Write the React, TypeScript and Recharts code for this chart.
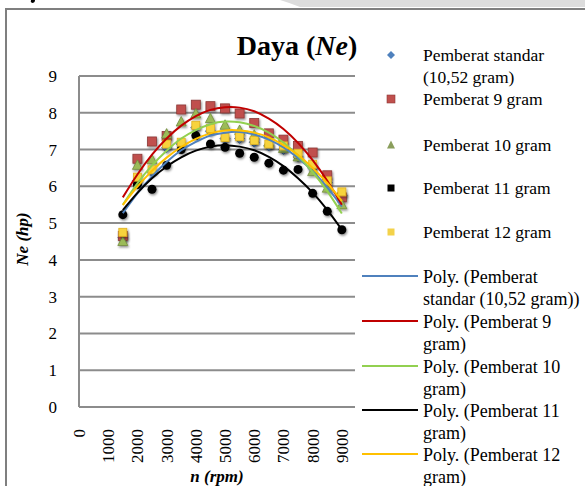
import React from 'react';
import { ComposedChart, Scatter, Line, XAxis, YAxis, CartesianGrid } from 'recharts';

const FONT = '"Liberation Serif", "Times New Roman", serif';

// rpm values of the measured points
const rpm = [1500, 2000, 2500, 3000, 3500, 4000, 4500, 5000, 5500, 6000, 6500, 7000, 7500, 8000, 8500, 9000];

// measured power Ne (hp)
const standarVals = [4.6, 6.15, 6.4, 7.05, 7.15, 7.6, 7.5, 7.3, 7.3, 7.2, 7.1, 7.0, 6.8, 6.5, 6.1, 5.75];
const gram9Vals = [4.65, 6.75, 7.22, 7.37, 8.09, 8.22, 8.18, 8.12, 7.98, 7.72, 7.44, 7.27, 7.1, 6.92, 6.3, 5.7];
const gram10Vals = [4.5, 6.57, 6.72, 7.42, 7.75, 7.97, 7.84, 7.66, 7.52, 7.39, 7.2, 7.03, 6.8, 6.4, 5.95, 5.5];
const gram11Vals = [5.23, 6.05, 5.92, 6.57, 7.0, 7.38, 7.15, 7.06, 6.9, 6.79, 6.63, 6.44, 6.46, 5.81, 5.32, 4.82];
const gram12Vals = [4.75, 6.25, 6.45, 7.15, 7.2, 7.66, 7.57, 7.33, 7.35, 7.25, 7.15, 7.1, 6.9, 6.6, 6.15, 5.85];

// polynomial trend lines
const trendStandar = [5.27, 5.81, 6.27, 6.66, 6.98, 7.21, 7.38, 7.46, 7.48, 7.41, 7.27, 7.06, 6.77, 6.41, 5.97, 5.45];
const trend9 = [5.7, 6.32, 6.86, 7.3, 7.65, 7.91, 8.08, 8.15, 8.14, 8.04, 7.84, 7.56, 7.18, 6.71, 6.15, 5.5];
const trend10 = [5.5, 6.08, 6.57, 6.97, 7.3, 7.53, 7.69, 7.76, 7.74, 7.64, 7.46, 7.19, 6.83, 6.39, 5.87, 5.26];
const trend11 = [5.35, 5.82, 6.22, 6.54, 6.79, 6.97, 7.08, 7.12, 7.08, 6.98, 6.8, 6.55, 6.22, 5.83, 5.36, 4.82];
const trend12 = [5.49, 5.99, 6.42, 6.78, 7.07, 7.29, 7.44, 7.52, 7.52, 7.46, 7.33, 7.12, 6.85, 6.5, 6.09, 5.6];

const xTicks = [0, 1000, 2000, 3000, 4000, 5000, 6000, 7000, 8000, 9000];
const yTicks = [0, 1, 2, 3, 4, 5, 6, 7, 8, 9];

const seriesNames = ['Pemberat standar (10,52 gram)', 'Pemberat 9 gram', 'Pemberat 10 gram', 'Pemberat 11 gram', 'Pemberat 12 gram'];
const seriesLegendLines = [
  ['Pemberat standar', '(10,52 gram)'],
  ['Pemberat 9 gram'],
  ['Pemberat 10 gram'],
  ['Pemberat 11 gram'],
  ['Pemberat 12 gram'],
];
const trendLegendLines = [
  ['Poly. (Pemberat', 'standar (10,52 gram))'],
  ['Poly. (Pemberat 9', 'gram)'],
  ['Poly. (Pemberat 10', 'gram)'],
  ['Poly. (Pemberat 11', 'gram)'],
  ['Poly. (Pemberat 12', 'gram)'],
];
const trendColors = ['#4F81BD', '#C00000', '#92D050', '#000000', '#FFC000'];

const data = rpm.map((x, i) => ({
  rpm: x,
  s: standarVals[i],
  g9: gram9Vals[i],
  g10: gram10Vals[i],
  g11: gram11Vals[i],
  g12: gram12Vals[i],
  ts: trendStandar[i],
  t9: trend9[i],
  t10: trend10[i],
  t11: trend11[i],
  t12: trend12[i],
}));

const DiamondShape = (p: any) => {
  const { cx, cy } = p;
  if (cx == null || cy == null) return null;
  return <path d={`M${cx},${cy - 5} L${cx + 5},${cy} L${cx},${cy + 5} L${cx - 5},${cy} Z`} fill="#4F81BD" stroke="#385D8A" strokeWidth={0.8} filter="url(#mkShadow)" />;
};
const RedSquare = (p: any) => {
  const { cx, cy } = p;
  if (cx == null || cy == null) return null;
  return <rect x={cx - 4.5} y={cy - 4.5} width={9} height={9} fill="#C0504D" stroke="#8C3836" strokeWidth={0.8} filter="url(#mkShadow)" />;
};
const GreenTri = (p: any) => {
  const { cx, cy } = p;
  if (cx == null || cy == null) return null;
  return <path d={`M${cx},${cy - 5.5} L${cx + 5},${cy + 4} L${cx - 5},${cy + 4} Z`} fill="#9BBB59" stroke="#71893F" strokeWidth={0.8} filter="url(#mkShadow)" />;
};
const BlackDot = (p: any) => {
  const { cx, cy } = p;
  if (cx == null || cy == null) return null;
  return <circle cx={cx} cy={cy} r={4.5} fill="#000" filter="url(#mkShadow)" />;
};
const YellowSquare = (p: any) => {
  const { cx, cy } = p;
  if (cx == null || cy == null) return null;
  return <rect x={cx - 4} y={cy - 4} width={8} height={8} fill="#F7D33C" stroke="#E0B020" strokeWidth={0.8} filter="url(#mkShadow)" />;
};

const XTick = (p: any) => {
  const { x, y, payload } = p;
  return (
    <g transform={`translate(${x},${y})`}>
      <text transform="rotate(-90)" textAnchor="end" dy="0.35em" fontSize={17} fontFamily={FONT} fill="#000">
        {payload.value}
      </text>
    </g>
  );
};

const legendMarkerY = [55, 99, 145, 188, 232];
const trendLegendY = [276, 321, 366, 410, 454];

function LegendMarker({ i, x, y }: { i: number; x: number; y: number }) {
  if (i === 0) return <path d={`M${x},${y - 4} L${x + 4},${y} L${x},${y + 4} L${x - 4},${y} Z`} fill="#4F81BD" />;
  if (i === 1) return <rect x={x - 4} y={y - 4} width={8} height={8} fill="#C0504D" stroke="#8C3836" strokeWidth={0.6} />;
  if (i === 2) return <path d={`M${x},${y - 4.5} L${x + 4},${y + 3.5} L${x - 4},${y + 3.5} Z`} fill="#8A9E5C" />;
  if (i === 3) return <rect x={x - 3.5} y={y - 3.5} width={7} height={7} fill="#000" />;
  return <rect x={x - 3.5} y={y - 3.5} width={7} height={7} fill="#F3D24A" />;
}

export default function App() {
  return (
    <div style={{ position: 'absolute', left: 0, top: 0, width: 585, height: 486, background: '#fff' }}>
      <ComposedChart
        width={585}
        height={486}
        data={data}
        margin={{ top: 76, right: 230, bottom: 0, left: 0 }}
        style={{ position: 'absolute', left: 0, top: 0 }}
      >
        <CartesianGrid vertical={false} stroke="#8C8C8C" strokeWidth={2} />
        <XAxis
          type="number"
          dataKey="rpm"
          domain={[0, 9450]}
          ticks={xTicks}
          interval={0}
          height={79}
          axisLine={false}
          tickLine={false}
          tickSize={0}
          tickMargin={22}
          tick={<XTick />}
        />
        <YAxis
          type="number"
          domain={[0, 9]}
          ticks={yTicks}
          interval={0}
          width={79}
          axisLine={{ stroke: '#8C8C8C', strokeWidth: 2 }}
          tickLine={false}
          tickSize={0}
          tickMargin={22}
          tick={{ fontSize: 17, fontFamily: FONT, fill: '#000' }}
        />
        <Scatter name={seriesNames[0]} dataKey="s" shape={<DiamondShape />} isAnimationActive={false} />
        <Scatter name={seriesNames[1]} dataKey="g9" shape={<RedSquare />} isAnimationActive={false} />
        <Scatter name={seriesNames[2]} dataKey="g10" shape={<GreenTri />} isAnimationActive={false} />
        <Scatter name={seriesNames[3]} dataKey="g11" shape={<BlackDot />} isAnimationActive={false} />
        <Scatter name={seriesNames[4]} dataKey="g12" shape={<YellowSquare />} isAnimationActive={false} />
        <Line type="natural" dataKey="ts" stroke={trendColors[0]} strokeWidth={2} dot={false} activeDot={false} isAnimationActive={false} {...({ zIndex: 700 } as any)} />
        <Line type="natural" dataKey="t9" stroke={trendColors[1]} strokeWidth={2} dot={false} activeDot={false} isAnimationActive={false} {...({ zIndex: 700 } as any)} />
        <Line type="natural" dataKey="t10" stroke={trendColors[2]} strokeWidth={2} dot={false} activeDot={false} isAnimationActive={false} {...({ zIndex: 700 } as any)} />
        <Line type="natural" dataKey="t11" stroke={trendColors[3]} strokeWidth={2} dot={false} activeDot={false} isAnimationActive={false} {...({ zIndex: 700 } as any)} />
        <Line type="natural" dataKey="t12" stroke={trendColors[4]} strokeWidth={2} dot={false} activeDot={false} isAnimationActive={false} {...({ zIndex: 700 } as any)} />
      </ComposedChart>
      <svg width={585} height={486} style={{ position: 'absolute', left: 0, top: 0, pointerEvents: 'none' }}>
        <defs>
          <filter id="mkShadow" x="-60%" y="-60%" width="220%" height="220%">
            <feDropShadow dx={1} dy={1.5} stdDeviation={1.3} floodColor="#000" floodOpacity={0.45} />
          </filter>
        </defs>
        <path d="M 280,0 L 585,0 L 585,7 L 300,7 Q 290,3 280,0 Z" fill="#DCDCDC" />
        <path d="M 31,0 L 35,0 Q 35,3 32,3 Q 30,2 31,0 Z" fill="#000" />
        <rect x={6} y={9} width={600} height={500} fill="none" stroke="#7F7F7F" strokeWidth={2} />
        <text x={297} y={55} textAnchor="middle" fontSize={28} fontWeight="bold" fontFamily={FONT} fill="#000">
          Daya (<tspan fontStyle="italic">Ne</tspan>)
        </text>
        <text
          transform="translate(22,239) rotate(-90)"
          textAnchor="middle"
          dominantBaseline="central"
          fontSize={17}
          fontWeight="bold"
          fontStyle="italic"
          fontFamily={FONT}
          fill="#000"
        >
          Ne (hp)
        </text>
        <text x={217} y={482} textAnchor="middle" fontSize={17} fontWeight="bold" fontStyle="italic" fontFamily={FONT} fill="#000">
          n (rpm)
        </text>
        {seriesLegendLines.map((lines, i) => (
          <g key={`m${i}`}>
            <LegendMarker i={i} x={391} y={legendMarkerY[i]} />
            {lines.map((t, j) => (
              <text key={j} x={423} y={legendMarkerY[i] + j * 22} dominantBaseline="central" fontSize={17.5} fontFamily={FONT} fill="#000">
                {t}
              </text>
            ))}
          </g>
        ))}
        {trendLegendLines.map((lines, i) => (
          <g key={`t${i}`}>
            <line x1={362} x2={418} y1={trendLegendY[i]} y2={trendLegendY[i]} stroke={trendColors[i]} strokeWidth={2} />
            {lines.map((t, j) => (
              <text key={j} x={423} y={trendLegendY[i] + 1 + j * 22} dominantBaseline="central" fontSize={18} fontFamily={FONT} fill="#000">
                {t}
              </text>
            ))}
          </g>
        ))}
      </svg>
    </div>
  );
}
